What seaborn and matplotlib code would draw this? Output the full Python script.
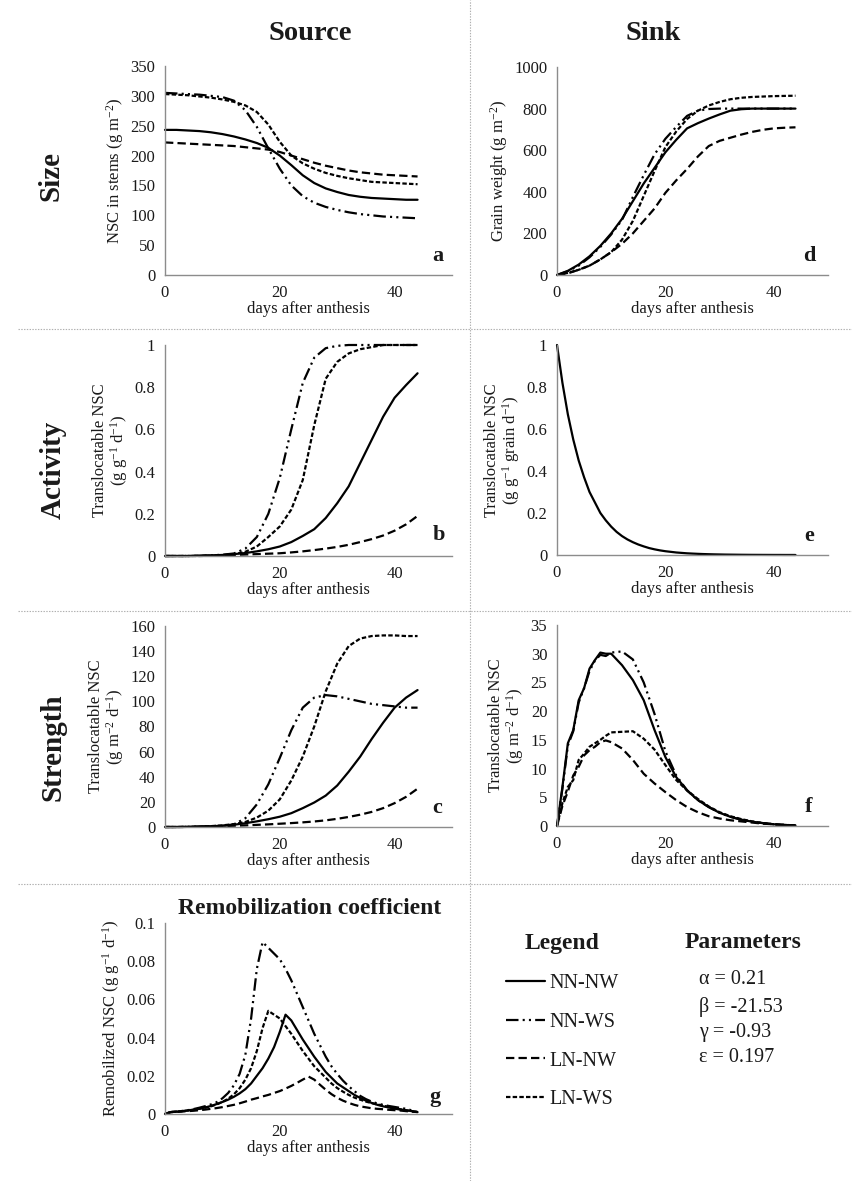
import numpy as np
import pandas as pd
import matplotlib
matplotlib.use("Agg")
import matplotlib.pyplot as plt
import seaborn as sns
from matplotlib.lines import Line2D
from matplotlib.ticker import FuncFormatter

# ---------------- data ----------------
treatments = ["NN-NW", "NN-WS", "LN-NW", "LN-WS"]
days2 = list(range(0, 45, 2))          # 0..44 every 2 days
days1 = list(range(0, 45))             # 0..44 daily
days_f = [0, 1, 2, 3, 4, 5, 6, 7, 8, 9, 10] + list(range(12, 45, 2))

# a: NSC in stems (g m-2)
a_nnnw = [243, 243, 242, 241, 239, 236, 232, 227, 221, 213, 200, 184, 167, 154, 145, 139, 134, 131, 129, 128, 127, 126, 126]
a_nnws = [305, 304, 303, 302, 300, 298, 292, 276, 248, 212, 178, 150, 132, 121, 114, 109, 105, 102, 100, 98, 97, 96, 95]
a_lnnw = [222, 221, 220, 219, 218, 217, 216, 214, 212, 210, 206, 200, 194, 188, 183, 179, 175, 172, 170, 168, 167, 166, 165]
a_lnws = [303, 302, 301, 299, 297, 294, 290, 284, 273, 252, 223, 200, 187, 178, 171, 166, 162, 159, 156, 155, 154, 153, 152]

# d: grain weight (g m-2)
d_nnnw = [0, 20, 50, 90, 140, 200, 270, 355, 440, 515, 590, 650, 705, 730, 752, 772, 790, 797, 800, 800, 800, 800, 800]
d_nnws = [0, 18, 45, 85, 135, 195, 265, 375, 480, 580, 655, 712, 765, 790, 798, 800, 800, 800, 800, 800, 800, 800, 800]
d_lnnw = [0, 8, 25, 45, 75, 110, 150, 200, 260, 320, 395, 455, 510, 570, 620, 645, 660, 675, 688, 698, 705, 708, 710]
d_lnws = [0, 10, 25, 45, 75, 110, 170, 260, 380, 500, 615, 690, 750, 790, 815, 832, 845, 852, 856, 858, 860, 861, 862]

# b: source activity (g g-1 d-1)
b_nnnw = [0, 0, 0, 0.001, 0.003, 0.005, 0.009, 0.014, 0.022, 0.032, 0.045, 0.066, 0.095, 0.127, 0.18, 0.25, 0.33, 0.44, 0.55, 0.66, 0.75, 0.81, 0.866]
b_nnws = [0, 0, 0, 0.001, 0.003, 0.006, 0.012, 0.035, 0.09, 0.2, 0.37, 0.6, 0.82, 0.94, 0.985, 0.996, 1, 1, 1, 1, 1, 1, 1]
b_lnnw = [0, 0, 0, 0.001, 0.002, 0.003, 0.005, 0.007, 0.009, 0.011, 0.013, 0.017, 0.022, 0.028, 0.035, 0.043, 0.053, 0.066, 0.08, 0.097, 0.12, 0.15, 0.19]
b_lnws = [0, 0, 0, 0, 0.001, 0.003, 0.008, 0.02, 0.045, 0.09, 0.14, 0.22, 0.36, 0.62, 0.84, 0.92, 0.96, 0.98, 0.99, 1, 1, 1, 1]

# e: sink activity (g g-1 grain d-1)
e_all = [1.00, 0.82, 0.67, 0.55, 0.45, 0.37, 0.30, 0.25, 0.20, 0.165, 0.135, 0.11, 0.09, 0.074, 0.061,
         0.05, 0.041, 0.033, 0.027, 0.022, 0.018, 0.015, 0.012, 0.01, 0.008, 0.0067, 0.0055, 0.0045,
         0.0037, 0.003, 0.0025, 0.002, 0.0017, 0.0014, 0.0011, 0.0009, 0.0007, 0.0006, 0.0005, 0.0004,
         0.0003, 0.0003, 0.0002, 0.0002, 0.0001]

# c: source strength (g m-2 d-1)
c_nnnw = [0, 0, 0.1, 0.3, 0.6, 1, 1.8, 3, 4.5, 6.2, 8.2, 11, 15, 19.5, 25, 33, 44, 56, 70, 83, 95, 103, 109]
c_nnws = [0, 0, 0.1, 0.3, 0.6, 1.0, 2.0, 7, 18, 34, 55, 77, 95, 103, 105, 104, 102, 100, 98, 97, 96, 95, 95]
c_lnnw = [0, 0, 0.1, 0.2, 0.4, 0.7, 1, 1.3, 1.7, 2.1, 2.6, 3.1, 3.7, 4.4, 5.3, 6.5, 8, 9.8, 12, 15, 19, 24, 30.5]
c_lnws = [0, 0, 0.1, 0.3, 0.7, 1.3, 2.3, 4, 7.5, 13, 22, 37, 56, 80, 108, 130, 144, 150, 152, 152.5, 152.5, 152, 152]

# f: sink strength (g m-2 d-1)
f_nnnw = [0, 6.8, 14.4, 16.7, 21.9, 24, 27.4, 28.9, 30.2, 30, 30,
          28, 25.4, 21.9, 16.7, 12, 8.5, 6.2, 4.5, 3.3, 2.3, 1.6, 1.1, 0.75, 0.5, 0.3, 0.18, 0.1]
f_nnws = [0, 6.5, 14, 16.5, 21.5, 24, 27, 28.8, 29.8, 29.6, 30.2,
          30.4, 29, 25, 19.5, 13, 8.8, 6.2, 4.5, 3.3, 2.3, 1.6, 1.1, 0.75, 0.5, 0.3, 0.18, 0.1]
f_lnnw = [0, 3.5, 6.0, 8.8, 10.3, 12.3, 13.2, 13.8, 14.6, 14.9, 14.6,
          13.5, 11.5, 9.1, 7.4, 5.9, 4.5, 3.3, 2.4, 1.7, 1.3, 1.0, 0.8, 0.6, 0.4, 0.3, 0.2, 0.1]
f_lnws = [0, 4.0, 6.8, 8.0, 11.5, 12.6, 13.8, 14.4, 15.0, 15.7, 16.3,
          16.4, 16.5, 15.2, 13.3, 10.6, 8.0, 6.2, 4.7, 3.4, 2.4, 1.7, 1.2, 0.8, 0.5, 0.3, 0.18, 0.1]

# g: remobilization coefficient (g g-1 d-1)
g_nnnw = [0, 0.001, 0.0012, 0.0015, 0.0019, 0.0023, 0.0028, 0.0034, 0.0042, 0.0052, 0.0063, 0.0075, 0.009,
          0.0108, 0.013, 0.016, 0.020, 0.024, 0.029, 0.035, 0.043, 0.052, 0.049, 0.044, 0.039, 0.0345, 0.030,
          0.026, 0.022, 0.019, 0.016, 0.014, 0.012, 0.010, 0.0084, 0.007, 0.0058, 0.0048, 0.004, 0.0034,
          0.0028, 0.0023, 0.0019, 0.0015, 0.001]
g_nnws = [0, 0.001, 0.0013, 0.0016, 0.002, 0.0026, 0.0033, 0.0041, 0.0050, 0.0062, 0.0082, 0.011, 0.015,
          0.021, 0.031, 0.050, 0.076, 0.090, 0.087, 0.084, 0.081, 0.076, 0.070, 0.063, 0.056, 0.049, 0.042,
          0.036, 0.030, 0.025, 0.021, 0.0175, 0.0145, 0.012, 0.0095, 0.0078, 0.0065, 0.0055, 0.0048, 0.0042,
          0.0037, 0.0032, 0.0027, 0.0019, 0.001]
g_lnnw = [0, 0.001, 0.0011, 0.0013, 0.0015, 0.0017, 0.002, 0.0023, 0.0027, 0.0031, 0.0036, 0.0042, 0.0048,
          0.0056, 0.0065, 0.0075, 0.0083, 0.0092, 0.010, 0.011, 0.012, 0.0133, 0.0147, 0.0163, 0.018, 0.0196,
          0.018, 0.0153, 0.0127, 0.0104, 0.0085, 0.007, 0.0058, 0.0048, 0.004, 0.0035, 0.003, 0.0027, 0.0025,
          0.0022, 0.002, 0.0018, 0.0015, 0.0012, 0.001]
g_lnws = [0, 0.001, 0.0012, 0.0015, 0.0018, 0.0022, 0.0027, 0.0033, 0.004, 0.005, 0.0063, 0.008, 0.0103,
          0.0135, 0.018, 0.024, 0.033, 0.045, 0.054, 0.052, 0.050, 0.046, 0.042, 0.0375, 0.033, 0.029, 0.025,
          0.022, 0.019, 0.016, 0.0136, 0.0117, 0.0100, 0.0086, 0.0075, 0.0065, 0.0057, 0.005, 0.0044, 0.0037,
          0.0031, 0.0025, 0.002, 0.0015, 0.001]

params = ["\u03b1 = 0.21", "\u03b2 = -21.53", "\u03b3 = -0.93", "\u03b5 = 0.197"]

# ---------------- style ----------------
sns.set_theme(style="white")
plt.rcParams["font.family"] = ["Liberation Serif", "DejaVu Serif"]
plt.rcParams["mathtext.fontset"] = "custom"
plt.rcParams["mathtext.rm"] = "Liberation Serif"
plt.rcParams["mathtext.it"] = "Liberation Serif:italic"
plt.rcParams["mathtext.bf"] = "Liberation Serif:bold"
plt.rcParams["lines.scale_dashes"] = False

TXT = "#1a1a1a"
SPINE = "#8c8c8c"
LW = 1.6
styles = {
    "NN-NW": "-",
    "NN-WS": (0, (9, 3, 1.5, 3, 1.5, 3)),
    "LN-NW": (0, (6, 3)),
    "LN-WS": (0, (3.2, 1.6)),
}

W, H = 853, 1181
fig = plt.figure(figsize=(W / 100, H / 100), dpi=100)
fig.patch.set_facecolor("white")


def px_axes(l, t, r, b):
    return fig.add_axes([l / W, 1 - b / H, (r - l) / W, (b - t) / H])


fmt = FuncFormatter(lambda v, p: "{:g}".format(round(v, 4)))


def style_ax(ax, yticks, ylabel, letter, lx):
    ax.set_xlim(0, 50)
    ax.set_ylim(yticks[0], yticks[-1])
    ax.set_xticks([0, 20, 40])
    ax.set_yticks(yticks)
    ax.yaxis.set_major_formatter(fmt)
    for s in ["top", "right"]:
        ax.spines[s].set_visible(False)
    for s in ["left", "bottom"]:
        ax.spines[s].set_color(SPINE)
        ax.spines[s].set_linewidth(1.0)
    ax.tick_params(axis="both", direction="out", length=4, width=0.9, color=SPINE,
                   labelsize=12, labelcolor=TXT, pad=3)
    ax.set_xlabel("days after anthesis", fontsize=12, color=TXT, labelpad=0)
    ax.set_ylabel(ylabel, fontsize=12, color=TXT, labelpad=3, linespacing=1.0)
    ax.grid(False)
    ax.set_facecolor("white")
    ax.text(lx[0], lx[1], letter, transform=ax.transAxes, fontsize=16, fontweight="bold",
            color=TXT, ha="center", va="center")


def draw(ax, x, series):
    for name, vals in zip(treatments, series):
        sns.lineplot(x=x, y=vals, ax=ax, color="black", linewidth=LW,
                     linestyle=styles[name], clip_on=False)


# a
ax_a = px_axes(165, 66, 452, 275)
draw(ax_a, days2, [a_nnnw, a_nnws, a_lnnw, a_lnws])
style_ax(ax_a, list(range(0, 351, 50)), "NSC in stems (g m$^{-2}$)", "a", (0.95, 0.09))

# d
ax_d = px_axes(557, 67, 828, 275)
draw(ax_d, days2, [d_nnnw, d_nnws, d_lnnw, d_lnws])
style_ax(ax_d, list(range(0, 1001, 200)), "Grain weight (g m$^{-2}$)", "d", (0.93, 0.09))

# b
ax_b = px_axes(165, 345, 452, 556)
draw(ax_b, days2, [b_nnnw, b_nnws, b_lnnw, b_lnws])
style_ax(ax_b, [0, 0.2, 0.4, 0.6, 0.8, 1.0], "Translocatable NSC\n(g g$^{-1}$ d$^{-1}$)", "b", (0.955, 0.1))

# e
ax_e = px_axes(557, 345, 828, 555)
sns.lineplot(x=days1, y=e_all, ax=ax_e, color="black", linewidth=LW, clip_on=False)
style_ax(ax_e, [0, 0.2, 0.4, 0.6, 0.8, 1.0], "Translocatable NSC\n(g g$^{-1}$ grain d$^{-1}$)", "e", (0.93, 0.09))

# c
ax_c = px_axes(165, 626, 452, 827)
draw(ax_c, days2, [c_nnnw, c_nnws, c_lnnw, c_lnws])
style_ax(ax_c, list(range(0, 161, 20)), "Translocatable NSC\n(g m$^{-2}$ d$^{-1}$)", "c", (0.95, 0.095))

# f
ax_f = px_axes(557, 625, 828, 826)
draw(ax_f, days_f, [f_nnnw, f_nnws, f_lnnw, f_lnws])
style_ax(ax_f, list(range(0, 36, 5)), "Translocatable NSC\n(g m$^{-2}$ d$^{-1}$)", "f", (0.93, 0.095))

# g
ax_g = px_axes(165, 923, 452, 1114)
draw(ax_g, days1, [g_nnnw, g_nnws, g_lnnw, g_lnws])
style_ax(ax_g, [0, 0.02, 0.04, 0.06, 0.08, 0.1], "Remobilized NSC (g g$^{-1}$ d$^{-1}$)", "g", (0.94, 0.09))

# ---------------- titles and row labels ----------------
fig.text(310 / W, 1 - 33 / H, "Source", fontsize=20.5, fontweight="bold", color=TXT, ha="center", va="center")
fig.text(653 / W, 1 - 33 / H, "Sink", fontsize=20.5, fontweight="bold", color=TXT, ha="center", va="center")
fig.text(310 / W, 1 - 908 / H, "Remobilization coefficient", fontsize=17, fontweight="bold", color=TXT,
         ha="center", va="center")
for label, (xx, yy) in {"Size": (51, 176), "Activity": (53, 470), "Strength": (53, 747)}.items():
    fig.text(xx / W, 1 - yy / H, label, fontsize=21, fontweight="bold", color=TXT, rotation=90,
             ha="center", va="center")

# ---------------- separators ----------------
for yy in [329, 611, 884]:
    fig.add_artist(Line2D([18 / W, 1], [1 - yy / H, 1 - yy / H], transform=fig.transFigure,
                          color="#b0b0b0", lw=0.8, ls=(0, (1, 1))))
fig.add_artist(Line2D([470 / W, 470 / W], [0, 1], transform=fig.transFigure,
                      color="#b0b0b0", lw=0.8, ls=(0, (1, 1))))

# ---------------- legend ----------------
handles = [Line2D([], [], color="black", lw=LW, ls=styles[n]) for n in treatments]
leg = fig.legend(handles, treatments, title="Legend", loc="upper left",
                 bbox_to_anchor=(506 / W, 1 - 933 / H), bbox_transform=fig.transFigure,
                 frameon=False, fontsize=14.5, handlelength=1.95, handletextpad=0.2,
                 labelspacing=0.98, borderpad=0, borderaxespad=0,
                 title_fontproperties={"weight": "bold", "size": 17, "family": "Liberation Serif"})
for t in leg.get_texts():
    t.set_color(TXT)
leg.get_title().set_color(TXT)

fig.text(743 / W, 1 - 942 / H, "Parameters", fontsize=17, fontweight="bold", color=TXT, ha="center", va="center")
for p, yy in zip(params, [980, 1007, 1032, 1057]):
    fig.text(699 / W, 1 - yy / H, p, fontsize=14.5, color=TXT, ha="left", va="center")

fig.savefig("out.png", dpi=100, facecolor="white")
